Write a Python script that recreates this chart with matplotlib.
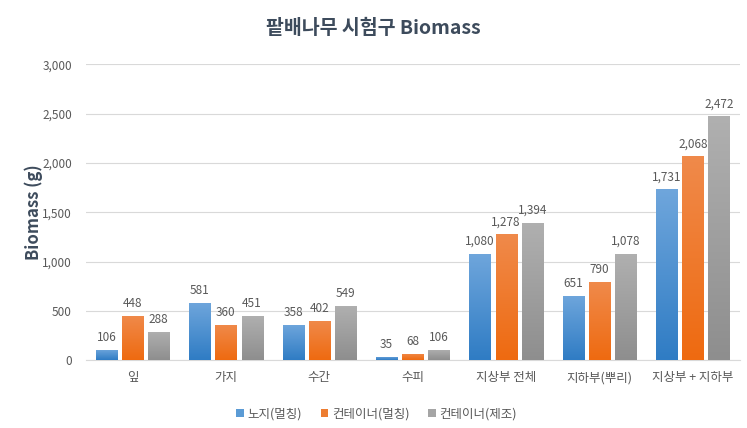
import numpy as np
import matplotlib
matplotlib.use("Agg")
import matplotlib.pyplot as plt
from matplotlib.colors import LinearSegmentedColormap
from matplotlib.ticker import FuncFormatter, MultipleLocator

plt.rcParams['font.family'] = ['Noto Sans CJK KR', 'DejaVu Sans']

categories = ["잎", "가지", "수간", "수피", "지상부 전체", "지하부(뿌리)", "지상부 + 지하부"]
series_names = ["노지(멀칭)", "컨테이너(멀칭)", "컨테이너(제조)"]
open_mulch = [106, 581, 358, 35, 1080, 651, 1731]
cont_mulch = [448, 360, 402, 68, 1278, 790, 2068]
cont_bare = [288, 451, 549, 106, 1394, 1078, 2472]

series = [open_mulch, cont_mulch, cont_bare]
# (top colour, bottom colour) for the Excel-like gradient
shades = [("#6FA6DC", "#2F7CC4"), ("#F08A4B", "#EE6A10"), ("#B0B0B0", "#8E8E8E")]
solid = ["#5B9BD5", "#ED7D31", "#A5A5A5"]

TEXT = "#595959"
TITLE = "#3D4B5C"

fig = plt.figure(figsize=(7.47, 4.28), dpi=100)
ax = fig.add_axes([0.115, 0.158, 0.875, 0.692])

x = np.arange(len(categories))
width = 0.225
step = 0.28

for i, (vals, (top, bot)) in enumerate(zip(series, shades)):
    pos = x + (i - 1) * step
    bars = ax.bar(pos, vals, width, color=solid[i], label=series_names[i], zorder=2)
    cmap = LinearSegmentedColormap.from_list(f"g{i}", [bot, top])
    grad = np.linspace(0, 1, 256).reshape(-1, 1)
    for b, v in zip(bars, vals):
        im = ax.imshow(grad, cmap=cmap, aspect="auto", origin="lower",
                       extent=[b.get_x(), b.get_x() + b.get_width(), 0, v], zorder=3)
        im.set_clip_path(b)
        ax.text(b.get_x() + b.get_width() / 2, v + 60, f"{v:,}",
                ha="center", va="bottom", fontsize=8.5, color=TEXT, zorder=4)

ax.set_xlim(-0.5, len(categories) - 0.5)
ax.set_ylim(0, 3000)
ax.yaxis.set_major_locator(MultipleLocator(500))
ax.yaxis.set_major_formatter(FuncFormatter(lambda v, p: f"{int(v):,}"))
ax.set_xticks(x)
ax.set_xticklabels(categories)
ax.tick_params(axis="both", length=0, labelsize=8.5, colors=TEXT)
ax.tick_params(axis="x", pad=8, labelsize=9)
ax.tick_params(axis="y", pad=10)
ax.grid(axis="y", color="#D9D9D9", linewidth=0.8, zorder=0)
for s in ["top", "right", "left"]:
    ax.spines[s].set_visible(False)
ax.spines["bottom"].set_color("#D9D9D9")

ax.set_ylabel("Biomass (g)", fontsize=12, fontweight="bold", color=TITLE)
ax.yaxis.set_label_coords(-0.066, 0.5)
fig.suptitle("팥배나무 시험구 Biomass", fontsize=14, fontweight="bold", color=TITLE, y=0.955)

leg = ax.legend(loc="upper center", bbox_to_anchor=(0.445, -0.12), ncol=3, frameon=False,
                fontsize=9, handlelength=0.6, handleheight=0.6, handletextpad=0.3,
                columnspacing=1.5)
for t in leg.get_texts():
    t.set_color(TEXT)

fig.savefig("out.png", dpi=100)
